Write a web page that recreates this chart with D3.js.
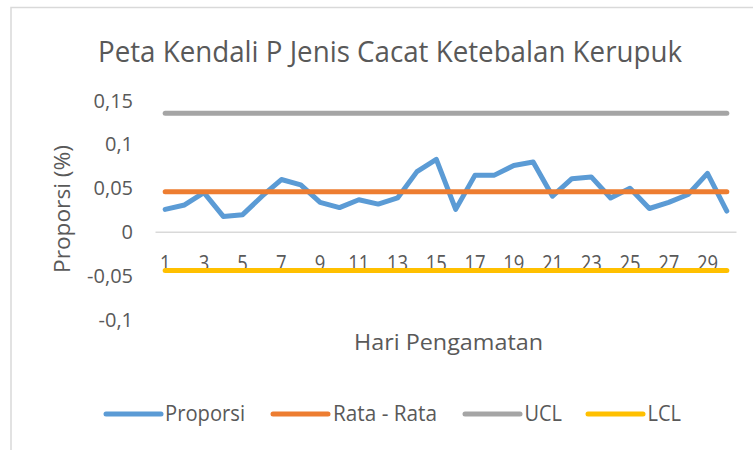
<!DOCTYPE html>
<html><head><meta charset="utf-8">
<script src="https://cdn.jsdelivr.net/npm/d3@7/dist/d3.min.js"></script>
<style>html,body{margin:0;padding:0;background:#fff;}svg{display:block;}</style>
</head><body>
<svg id="chart" width="753" height="450"></svg>
<script>
const days = d3.range(1, 31);
const proporsi = [0.026,0.031,0.045,0.018,0.020,0.041,0.060,0.054,0.034,0.028,
                  0.037,0.032,0.039,0.069,0.083,0.026,0.065,0.065,0.076,0.080,
                  0.041,0.061,0.063,0.039,0.050,0.027,0.034,0.043,0.067,0.024];
const rataRata = 0.046;
const ucl = 0.1355;
const lcl = -0.0435;
const yTicks = [-0.1, -0.05, 0, 0.05, 0.1, 0.15];
const xTickLabels = days.filter(d => d % 2 === 1);
const titleText = "Peta Kendali P Jenis Cacat Ketebalan Kerupuk";
const xTitle = "Hari Pengamatan";
const yTitle = "Proporsi (%)";
const seriesNames = ["Proporsi", "Rata - Rata", "UCL", "LCL"];
const colors = ["#5B9BD5", "#ED7D31", "#A5A5A5", "#FFC000"];

const svg = d3.select("#chart");
const font = "'Open Sans', sans-serif";
const textColor = "#595959";

// chart border
svg.append("rect").attr("x", 11).attr("y", 7.5).attr("width", 760).attr("height", 460)
  .attr("fill", "#fff").attr("stroke", "#D9D9D9").attr("stroke-width", 1.5);

const x = d3.scaleBand().domain(days).range([155.5, 736.5]).padding(0);
const cx = d => x(d) + x.bandwidth() / 2;
const y = d3.scaleLinear().domain([-0.1, 0.15]).range([320, 100.5]);

function fit(sel, w) {
  sel.each(function(){ if (this.getComputedTextLength() > 0) d3.select(this).attr("textLength", w).attr("lengthAdjust", "spacingAndGlyphs"); });
}
function squeeze(sel, k) {
  sel.each(function(){ const L = this.getComputedTextLength(); if (L > 0) d3.select(this).attr("textLength", L * k).attr("lengthAdjust", "spacingAndGlyphs"); });
}

// title
svg.append("text").attr("x", 390).attr("y", 61.5).attr("text-anchor", "middle")
  .attr("font-family", font).attr("font-size", 29).attr("fill", textColor)
  .text(titleText).call(fit, 584);

// zero line
svg.append("line").attr("x1", 155.5).attr("x2", 736.5).attr("y1", y(0)).attr("y2", y(0))
  .attr("stroke", "#D9D9D9").attr("stroke-width", 1.5);

// y axis labels
const fmt = v => (v === 0 ? "0" : String(+v.toFixed(2)).replace(".", ","));
svg.append("g").selectAll("text").data(yTicks).join("text")
  .attr("x", 133).attr("y", d => y(d)).attr("dy", "0.35em").attr("text-anchor", "end")
  .attr("font-family", font).attr("font-size", 20).attr("fill", textColor)
  .text(fmt);

// x axis labels
svg.append("g").selectAll("text").data(xTickLabels).join("text")
  .attr("x", d => cx(d)).attr("y", 271).attr("text-anchor", "middle")
  .attr("font-family", font).attr("font-size", 21).attr("fill", textColor)
  .text(d => d).call(squeeze, 0.88);

// axis titles
svg.append("text").attr("x", 448.5).attr("y", 350).attr("text-anchor", "middle")
  .attr("font-family", font).attr("font-size", 21).attr("fill", textColor)
  .text(xTitle).call(fit, 189);
svg.append("text").attr("transform", "translate(70,209) rotate(-90)").attr("text-anchor", "middle")
  .attr("font-family", font).attr("font-size", 21).attr("fill", textColor)
  .text(yTitle).call(fit, 128);

// proporsi line (drawn first, like the series order)
const line = d3.line().x((d, i) => cx(days[i])).y(d => y(d));
svg.append("path").datum(proporsi).attr("d", line).attr("fill", "none")
  .attr("stroke", colors[0]).attr("stroke-width", 5).attr("stroke-linejoin", "round").attr("stroke-linecap", "round");

// constant lines
const consts = [[rataRata, colors[1]], [ucl, colors[2]], [lcl, colors[3]]];
svg.append("g").selectAll("line").data(consts).join("line")
  .attr("x1", cx(1)).attr("x2", cx(30)).attr("y1", d => y(d[0])).attr("y2", d => y(d[0]))
  .attr("stroke", d => d[1]).attr("stroke-width", 5).attr("stroke-linecap", "round");

// legend
const legendItems = [
  {name: seriesNames[0], c: colors[0], lx: 106, tx: 165, tw: 80},
  {name: seriesNames[1], c: colors[1], lx: 273, tx: 333, tw: 104},
  {name: seriesNames[2], c: colors[2], lx: 465, tx: 524.5, tw: 37.5},
  {name: seriesNames[3], c: colors[3], lx: 588, tx: 647.5, tw: 33.5}
];
const lg = svg.append("g").selectAll("g").data(legendItems).join("g");
lg.append("line").attr("x1", d => d.lx).attr("x2", d => d.lx + 55).attr("y1", 414).attr("y2", 414)
  .attr("stroke", d => d.c).attr("stroke-width", 5).attr("stroke-linecap", "round");
lg.append("text").attr("x", d => d.tx).attr("y", 414).attr("dy", "0.35em")
  .attr("font-family", font).attr("font-size", 21).attr("fill", textColor)
  .text(d => d.name)
  .each(function(d){ d3.select(this).attr("textLength", d.tw).attr("lengthAdjust", "spacingAndGlyphs"); });
</script>
</body></html>
